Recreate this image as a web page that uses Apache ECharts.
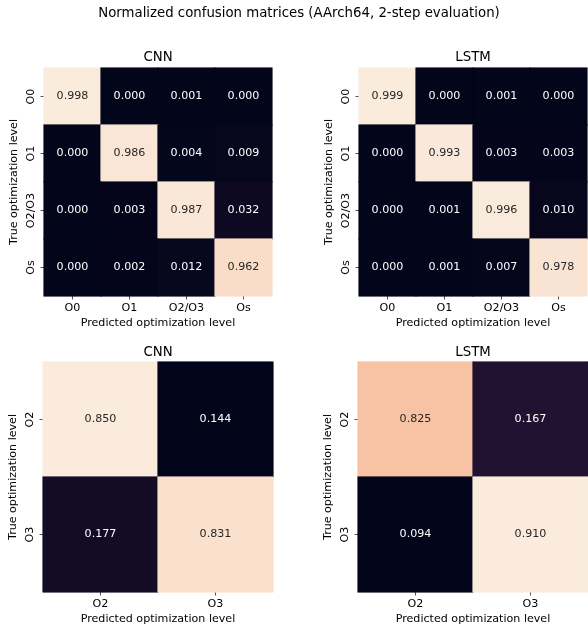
<!DOCTYPE html>
<html>
<head>
<meta charset="utf-8">
<script src="https://cdn.jsdelivr.net/npm/echarts@6/dist/echarts.min.js"></script>
<style>
html,body{margin:0;padding:0;background:#fff;}
#chart{width:588px;height:631px;}
</style>
</head>
<body>
<div id="chart"></div>
<script>
// ---- data ----
var suptitle = 'Normalized confusion matrices (AArch64, 2-step evaluation)';
var panelTitles = ['CNN', 'LSTM', 'CNN', 'LSTM'];
var labels4 = ['O0', 'O1', 'O2/O3', 'Os'];
var labels2 = ['O2', 'O3'];
var xAxisName = 'Predicted optimization level';
var yAxisName = 'True optimization level';

// rows = true level, cols = predicted level
var cnn4 = [
  [0.998, 0.000, 0.001, 0.000],
  [0.000, 0.986, 0.004, 0.009],
  [0.000, 0.003, 0.987, 0.032],
  [0.000, 0.002, 0.012, 0.962]
];
var lstm4 = [
  [0.999, 0.000, 0.001, 0.000],
  [0.000, 0.993, 0.003, 0.003],
  [0.000, 0.001, 0.996, 0.010],
  [0.000, 0.001, 0.007, 0.978]
];
var cnn2 = [
  [0.850, 0.144],
  [0.177, 0.831]
];
var lstm2 = [
  [0.825, 0.167],
  [0.094, 0.910]
];

// rocket colormap stops
var rocket = ['#03051a', '#35193e', '#701f57', '#ad1759', '#e13342', '#f37651', '#f6b48f', '#faebdd'];

var FONT = 'DejaVu Sans';
var BIG = 13.3, SMALL = 11.1;

var panels = [
  {m: cnn4, cats: labels4, left: 44, top: 68, size: 228},
  {m: lstm4, cats: labels4, left: 359, top: 68, size: 228},
  {m: cnn2, cats: labels2, left: 43, top: 362, size: 230},
  {m: lstm2, cats: labels2, left: 358, top: 362, size: 230}
];

var option = {
  backgroundColor: '#ffffff',
  animation: false,
  title: [],
  grid: [],
  xAxis: [],
  yAxis: [],
  series: []
};

option.title.push({
  text: suptitle,
  left: 299, top: 7, textAlign: 'center', padding: 0,
  textStyle: {fontFamily: FONT, fontSize: BIG, fontWeight: 'normal', color: '#000'}
});

panels.forEach(function (p, i) {
  var flat = [];
  p.m.forEach(function (r) { r.forEach(function (v) { flat.push(v); }); });
  var mn = Math.min.apply(null, flat), mx = Math.max.apply(null, flat);
  var data = [];
  p.m.forEach(function (row, yi) {
    row.forEach(function (v, xi) {
      var t = (v - mn) / (mx - mn);
      var c = echarts.color.lerp(t, rocket);
      data.push({
        value: [xi, yi, v],
        itemStyle: {color: c, borderColor: c, borderWidth: 0.6},
        label: {color: t > 0.6 ? '#262626' : '#ffffff'}
      });
    });
  });
  option.title.push({
    text: panelTitles[i],
    left: p.left + p.size / 2, top: (i < 2 ? 67 : 362) - 16, textAlign: 'center', padding: 0,
    textStyle: {fontFamily: FONT, fontSize: BIG, fontWeight: 'normal', color: '#000'}
  });
  option.grid.push({left: p.left, top: p.top, width: p.size, height: p.size, containLabel: false});
  option.xAxis.push({
    type: 'category', gridIndex: i, data: p.cats,
    name: xAxisName, nameLocation: 'middle', nameGap: 22,
    nameTextStyle: {fontFamily: FONT, fontSize: SMALL, color: '#000'},
    axisLine: {show: false},
    axisTick: {show: true, alignWithLabel: true, length: 3.5, lineStyle: {color: '#262626', width: 0.8}},
    axisLabel: {fontFamily: FONT, fontSize: SMALL, color: '#000', margin: 7},
    splitLine: {show: false}, splitArea: {show: false}
  });
  option.yAxis.push({
    type: 'category', gridIndex: i, data: p.cats, inverse: true,
    name: yAxisName, nameLocation: 'middle', nameGap: 24, nameRotate: 90,
    nameTextStyle: {fontFamily: FONT, fontSize: SMALL, color: '#000'},
    axisLine: {show: false},
    axisTick: {show: true, alignWithLabel: true, length: 3.5, lineStyle: {color: '#262626', width: 0.8}},
    axisLabel: {fontFamily: FONT, fontSize: SMALL, color: '#000', margin: 7, rotate: 90},
    splitLine: {show: false}, splitArea: {show: false}
  });
  option.series.push({
    type: 'heatmap', xAxisIndex: i, yAxisIndex: i, data: data,
    label: {show: true, fontFamily: FONT, fontSize: SMALL,
      formatter: function (d) { return d.value[2].toFixed(3); }},
    emphasis: {disabled: true}
  });
});

var chart = echarts.init(document.getElementById('chart'), null, {renderer: 'canvas'});
chart.setOption(option);
</script>
</body>
</html>
